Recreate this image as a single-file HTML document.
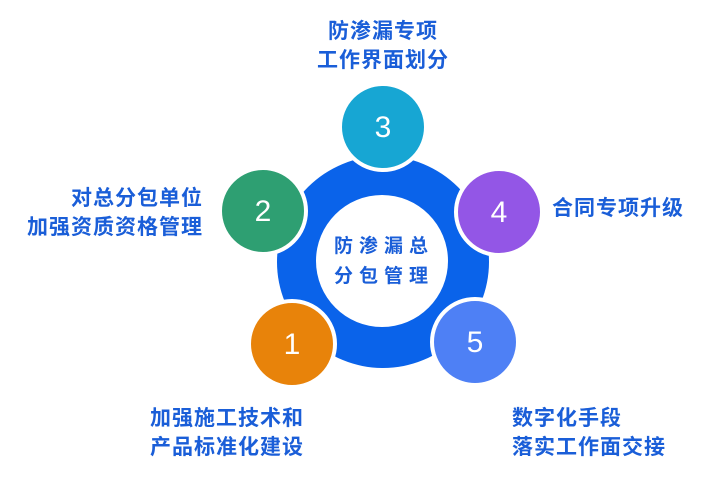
<!DOCTYPE html>
<html><head><meta charset="utf-8"><style>
html,body{margin:0;padding:0;background:#fff;width:727px;height:483px;overflow:hidden}
.t{position:absolute;font-family:"Liberation Sans","Noto Sans CJK SC",sans-serif;font-weight:bold;font-size:21px;letter-spacing:1px;color:#1a5ed8;line-height:29px;white-space:nowrap}
</style></head><body>
<svg width="727" height="483" style="position:absolute;left:0;top:0">
<circle cx="383" cy="262" r="106" fill="#0a63ea"/>
<circle cx="382" cy="261" r="66" fill="#fff"/>
<g stroke="#fff" stroke-width="4">
<circle cx="383" cy="127" r="43" fill="#17a6d3"/>
<circle cx="263" cy="211" r="43" fill="#2e9f72"/>
<circle cx="499" cy="212" r="43" fill="#9356e6"/>
<circle cx="292" cy="344" r="43" fill="#e8830a"/>
<circle cx="475" cy="342" r="43" fill="#4e80f5"/>
</g>
<g font-family="Liberation Sans, sans-serif" font-size="30" fill="#fff" text-anchor="middle">
<text x="383" y="137">3</text>
<text x="263" y="221">2</text>
<text x="499" y="222">4</text>
<text x="292" y="354">1</text>
<text x="475" y="352">5</text>
</g>
</svg>
<div class="t" style="left:334px;top:232px;letter-spacing:6px;font-size:19px;line-height:30px">防渗漏总<br>分包管理</div>
<div class="t" style="left:283px;top:17px;width:200px;text-align:center">防渗漏专项<br>工作界面划分</div>
<div class="t" style="left:0px;top:184px;width:203px;text-align:right">对总分包单位<br>加强资质资格管理</div>
<div class="t" style="left:552px;top:194px">合同专项升级</div>
<div class="t" style="left:150px;top:404px">加强施工技术和<br>产品标准化建设</div>
<div class="t" style="left:512px;top:404px">数字化手段<br>落实工作面交接</div>
</body></html>
